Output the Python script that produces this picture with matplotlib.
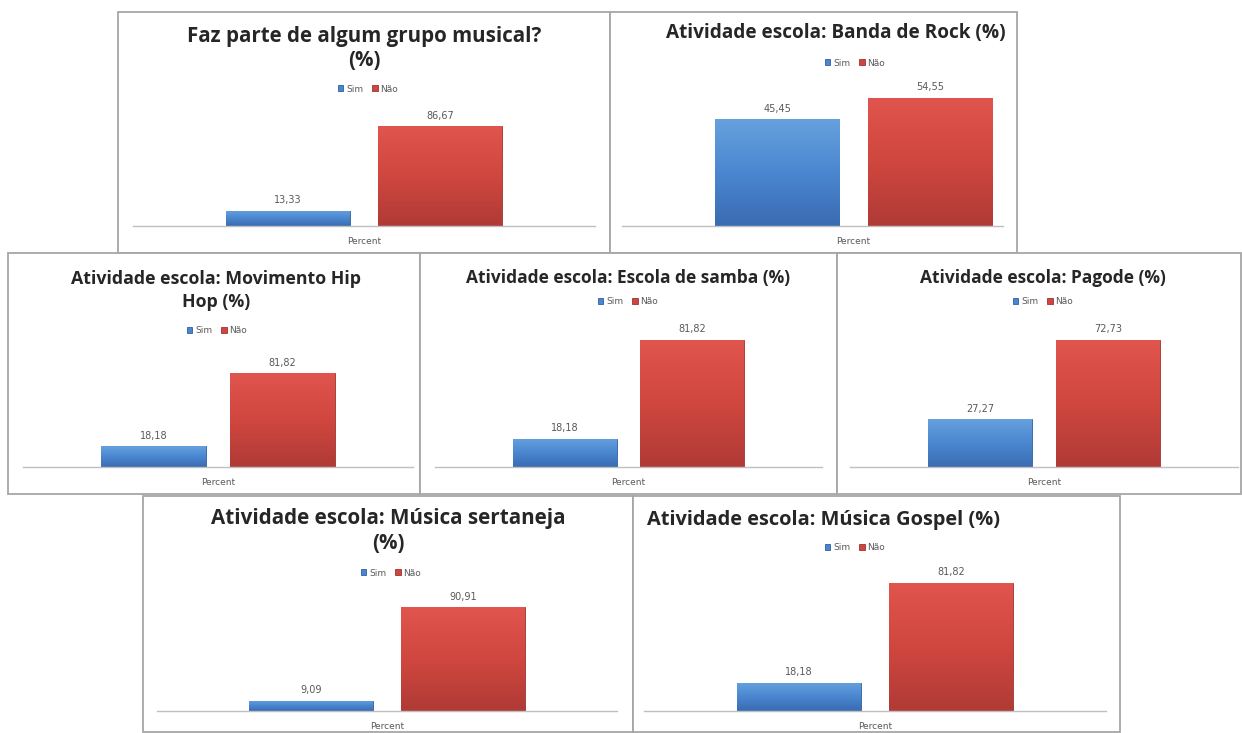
import numpy as np
import matplotlib
matplotlib.use('Agg')
import matplotlib.pyplot as plt
from matplotlib.patches import Rectangle
from matplotlib.colors import LinearSegmentedColormap

# Canvas size in pixels (dpi 100)
W, H = 1242, 733

# =============================================================================
# DATA
# =============================================================================

titles = [
    'Faz parte de algum grupo musical?\n(%)',
    'Atividade escola: Banda de Rock (%)',
    'Atividade escola: Movimento Hip\nHop (%)',
    'Atividade escola: Escola de samba (%)',
    'Atividade escola: Pagode (%)',
    'Atividade escola: Música sertaneja\n(%)',
    'Atividade escola: Música Gospel (%)',
]
series = ['Sim', 'Não']
category = 'Percent'
sim = [13.33, 45.45, 18.18, 18.18, 27.27, 9.09, 18.18]
nao = [86.67, 54.55, 81.82, 81.82, 72.73, 90.91, 81.82]
y_max = [100, 60, 90, 90, 80, 100, 90]

# =============================================================================
# LAYOUT (pixels, measured from the top-left corner)
# =============================================================================

# panel frames: x0, y0, x1, y1
frames = [
    (118, 12, 610, 253),
    (610, 12, 1017, 253),
    (8, 253, 420, 494),
    (420, 253, 837, 494),
    (837, 253, 1241, 494),
    (143, 496, 633, 732),
    (633, 496, 1120, 732),
]
# plot areas: x0, x1, full chart width, top, baseline
plots = [
    (133, 595, 462, 111, 226),
    (622, 1003, 463, 85, 226),
    (23, 413, 390, 364, 467),
    (435, 822, 387, 327, 467),
    (850, 1238, 388, 327, 467),
    (157, 617, 460, 597, 711),
    (644, 1106, 462, 570, 711),
]
title_pos = [(364, 48.5), (836, 33), (216, 290.5), (628, 278),
             (1043, 278), (388, 531), (824, 520)]
title_size = [14.8, 13.7, 12.8, 12.5, 12.5, 14.9, 14.4]
title_spacing = [1.2, 1.25, 1.38, 1.25, 1.25, 1.24, 1.25]
legend_pos = [(368, 89), (855, 63), (217, 331), (628, 302),
              (1043, 302), (391, 573), (855, 548)]

bar_x = [0.335, 0.665]
bar_w = 0.268
colors = ['#4a86cd', '#d0463f']
edges = ['#2f5f9e', '#9c3330']
gradients = [
    LinearSegmentedColormap.from_list('blue', ['#3a6cb2', '#4a87d0', '#66a0dd']),
    LinearSegmentedColormap.from_list('red', ['#b03a36', '#d0473f', '#e0554d']),
]
grad = np.linspace(0, 1, 64).reshape(-1, 1)

TEXT = '#595959'


def fx(x):
    return x / W


def fy(y):
    return 1 - y / H


fig = plt.figure(figsize=(W / 100, H / 100), dpi=100)
fig.patch.set_facecolor('white')

for i in range(len(titles)):
    # panel background and border, kept behind the axes
    x0, y0, x1, y1 = frames[i]
    fig.patches.append(Rectangle((fx(x0), fy(y1)), (x1 - x0) / W, (y1 - y0) / H,
                                 transform=fig.transFigure, facecolor='white',
                                 edgecolor='#a6a6a6', lw=1.3, zorder=-1))

    px0, px1, full_w, ptop, pbase = plots[i]
    ax = fig.add_axes([fx(px0), fy(pbase), (px1 - px0) / W, (pbase - ptop) / H])
    ax.set_zorder(1)
    ax.patch.set_alpha(0)

    values = [sim[i], nao[i]]
    handles = []
    for k, v in enumerate(values):
        bar = ax.bar(bar_x[k], v, width=bar_w, color=colors[k],
                     edgecolor=edges[k], lw=0.6, zorder=2, label=series[k])
        p = bar[0]
        im = ax.imshow(grad, extent=[p.get_x(), p.get_x() + p.get_width(), 0, p.get_height()],
                       cmap=gradients[k], aspect='auto', origin='lower', zorder=2.5,
                       interpolation='bicubic')
        im.set_clip_path(p)
        ax.annotate(f'{v:.2f}'.replace('.', ','),
                    (p.get_x() + p.get_width() / 2, p.get_height()),
                    xytext=(0, 4), textcoords='offset points',
                    ha='center', va='bottom', fontsize=7, color=TEXT,
                    annotation_clip=False)
        handles.append(bar)

    ax.set_xlim(0, (px1 - px0) / full_w)
    ax.set_ylim(0, y_max[i])
    for side in ['top', 'right', 'left']:
        ax.spines[side].set_visible(False)
    ax.spines['bottom'].set_color('#bfbfbf')
    ax.spines['bottom'].set_linewidth(1.0)
    ax.spines['bottom'].set_zorder(3)
    ax.set_yticks([])
    ax.set_xticks([0.5])
    ax.set_xticklabels([category])
    ax.tick_params(axis='x', length=0, pad=8, labelsize=6.5, colors=TEXT)

    ax.legend(handles=handles, labels=series, loc='center',
              bbox_to_anchor=(fx(legend_pos[i][0]), fy(legend_pos[i][1])),
              bbox_transform=fig.transFigure, ncol=2, frameon=False,
              fontsize=6.5, labelcolor=TEXT, handlelength=0.6, handleheight=0.6,
              handletextpad=0.3, columnspacing=1.0)

    tx, ty = title_pos[i]
    fig.text(fx(tx), fy(ty), titles[i], ha='center', va='center',
             fontsize=title_size[i], fontweight='bold', family='Open Sans',
             color='#262626', linespacing=title_spacing[i])

fig.savefig('out.png', dpi=100, facecolor='white')
